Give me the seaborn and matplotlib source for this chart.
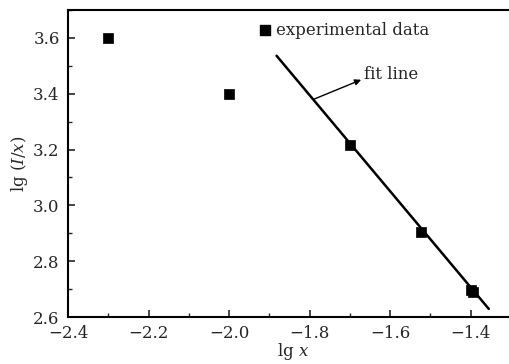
import numpy as np
import pandas as pd
import matplotlib
matplotlib.use("Agg")
import matplotlib.pyplot as plt
import seaborn as sns
from matplotlib.ticker import MultipleLocator

# ========== Data ==========
lg_x = [-2.30, -2.00, -1.70, -1.523, -1.40, -1.395]
lg_ix = [3.60, 3.40, 3.218, 2.904, 2.696, 2.688]

# fit line end points
fit_x = [-1.882, -1.355]
fit_y = [3.536, 2.629]

df = pd.DataFrame({"lg_x": lg_x, "lg_ix": lg_ix})
fit_df = pd.DataFrame({"lg_x": fit_x, "lg_ix": fit_y})

# ========== Style ==========
sns.set_theme(style="ticks")
plt.rcParams['font.family'] = ['DejaVu Serif']
plt.rcParams['mathtext.fontset'] = 'dejavuserif'
plt.rcParams['xtick.direction'] = 'in'
plt.rcParams['ytick.direction'] = 'in'

fig = plt.figure(figsize=(5.10, 3.64), dpi=100)
fig.patch.set_facecolor('white')
ax = fig.add_axes([68 / 510, 47 / 364, 451 / 510, 307 / 364])

# ========== Plot ==========
sns.lineplot(data=fit_df, x="lg_x", y="lg_ix", ax=ax, color='black', lw=1.8)
sns.scatterplot(data=df, x="lg_x", y="lg_ix", ax=ax, marker='s', s=45,
                color='black', edgecolor='black', linewidth=0.5, zorder=3)

ax.set_xlim(-2.4, -1.28)
ax.set_ylim(2.6, 3.7)
ax.xaxis.set_major_locator(MultipleLocator(0.2))
ax.xaxis.set_minor_locator(MultipleLocator(0.1))
ax.yaxis.set_major_locator(MultipleLocator(0.2))
ax.yaxis.set_minor_locator(MultipleLocator(0.1))
ax.xaxis.set_major_formatter(matplotlib.ticker.FuncFormatter(lambda v, p: f"\u2212{abs(v):.1f}" if v < 0 else f"{v:.1f}"))
ax.tick_params(which='major', length=5, width=1.2, labelsize=12)
ax.tick_params(axis='x', which='major', pad=6)
ax.tick_params(axis='y', which='major', pad=6)
ax.tick_params(which='minor', length=3, width=1.0)
for s in ax.spines.values():
    s.set_linewidth(1.5)
    s.set_color('black')

ax.set_xlabel(r"lg $x$", fontsize=12, labelpad=-1)
ax.set_ylabel(r"lg ($I/x$)", fontsize=12, labelpad=2)

# legend entry drawn as a proxy marker + text
ax.scatter([], [], marker='s', s=45, color='black', label='experimental data')
ax.legend(loc='upper left', bbox_to_anchor=(0.388, 1.0), frameon=False,
          fontsize=12, handletextpad=0.1, borderaxespad=0.3, handlelength=1.2)

# arrow from the fit line pointing to the label
ax.annotate("", xy=(-1.672, 3.45), xytext=(-1.79, 3.38),
            arrowprops=dict(arrowstyle='-|>', color='black', lw=1.0,
                            mutation_scale=9, shrinkA=0, shrinkB=0))
ax.text(-1.665, 3.468, "fit line", fontsize=12, va='center', ha='left')

plt.savefig("out.png", dpi=100, facecolor='white')
